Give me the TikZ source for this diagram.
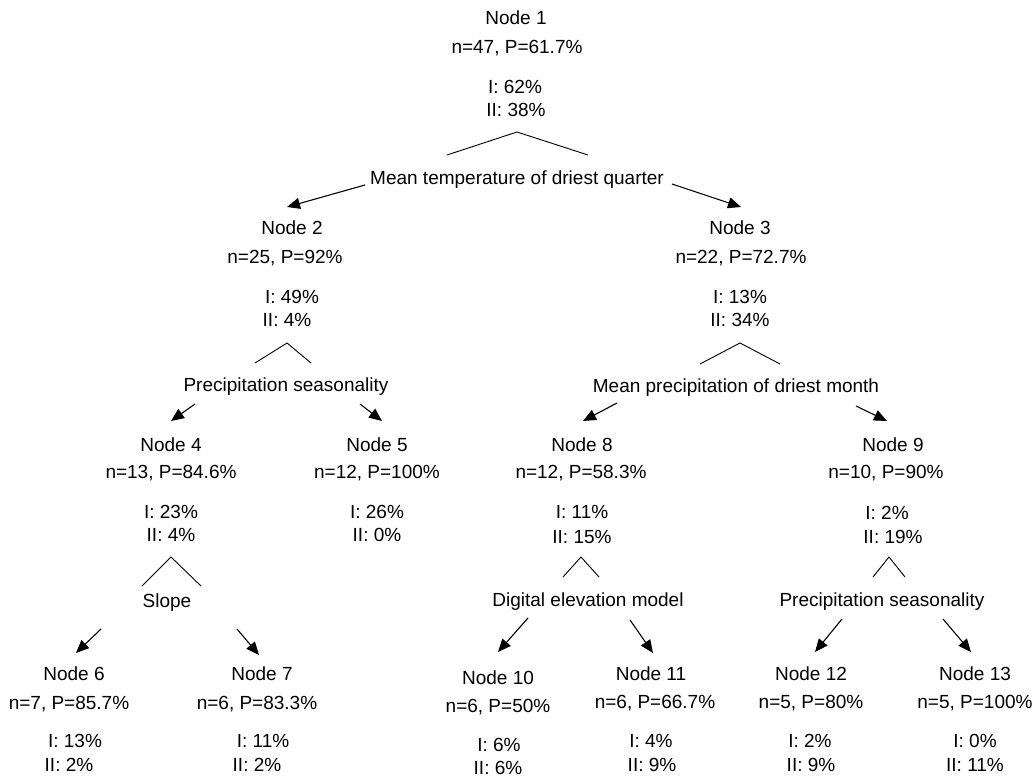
\documentclass[tikz,border=0pt]{standalone}
\usepackage{fontspec}
\setmainfont{Liberation Sans}
\usetikzlibrary{arrows.meta}
\begin{document}
\begin{tikzpicture}[x=1pt,y=-1pt,
  txt/.style={font=\fontsize{19}{22}\selectfont, inner sep=0pt, anchor=base, yshift=-6.8pt},
  arr/.style={line width=1.1pt, -{Triangle[length=13pt,width=11pt]}},
  tent/.style={line width=0.9pt}]
\fill[white] (0,0) rectangle (1034,778);
\useasboundingbox (0,0) rectangle (1034,778);

% ---------- Node 1
\node[txt] (n1a) at (516,18) {Node 1};
\node[txt] (n1b) at (517,47) {n=47, P=61.7\%};
\node[txt] (n1c) at (515,87) {I: 62\%};
\node[txt] (n1d) at (516,110) {II: 38\%};
\draw[tent] (447,155) -- (517,132) -- (588,155);
\node[txt] (s1) at (517,178) {Mean temperature of driest quarter};
\coordinate (a1s) at (365,185); \coordinate (a1e) at (287,207);
\coordinate (a2s) at (672,184); \coordinate (a2e) at (741,207);
\draw[arr] (a1s) -- (a1e);
\draw[arr] (a2s) -- (a2e);

% ---------- Node 2
\node[txt] (n2a) at (292,228) {Node 2};
\node[txt] (n2b) at (285,257) {n=25, P=92\%};
\node[txt] (n2c) at (292,297) {I: 49\%};
\node[txt] (n2d) at (287,320) {II: 4\%};
\draw[tent] (255,363) -- (287,343) -- (311,363);
\node[txt] (s2) at (286,385) {Precipitation seasonality};
\coordinate (b1s) at (195,404); \coordinate (b1e) at (171,421);
\coordinate (b2s) at (360,404); \coordinate (b2e) at (382,421);
\draw[arr] (b1s) -- (b1e);
\draw[arr] (b2s) -- (b2e);

% ---------- Node 3
\node[txt] (n3a) at (740,228) {Node 3};
\node[txt] (n3b) at (741,257) {n=22, P=72.7\%};
\node[txt] (n3c) at (740,297) {I: 13\%};
\node[txt] (n3d) at (740,320) {II: 34\%};
\draw[tent] (700,364) -- (740,343) -- (780,364);
\node[txt] (s3) at (736,386) {Mean precipitation of driest month};
\coordinate (c1s) at (617,403); \coordinate (c1e) at (583,421);
\coordinate (c2s) at (856,406); \coordinate (c2e) at (887,421);
\draw[arr] (c1s) -- (c1e);
\draw[arr] (c2s) -- (c2e);

% ---------- Node 4
\node[txt] (n4a) at (171,445) {Node 4};
\node[txt] (n4b) at (171,472) {n=13, P=84.6\%};
\node[txt] (n4c) at (171,512) {I: 23\%};
\node[txt] (n4d) at (171,535) {II: 4\%};
\draw[tent] (142,586) -- (171,557) -- (201,586);
\node[txt] (s4) at (167,601) {Slope};
\coordinate (d1s) at (101,629); \coordinate (d1e) at (76,653);
\coordinate (d2s) at (237,629); \coordinate (d2e) at (259,655);
\draw[arr] (d1s) -- (d1e);
\draw[arr] (d2s) -- (d2e);

% ---------- Node 5
\node[txt] (n5a) at (377,445) {Node 5};
\node[txt] (n5b) at (377,472) {n=12, P=100\%};
\node[txt] (n5c) at (377,512) {I: 26\%};
\node[txt] (n5d) at (377,535) {II: 0\%};

% ---------- Node 8
\node[txt] (n8a) at (582,445) {Node 8};
\node[txt] (n8b) at (581,472) {n=12, P=58.3\%};
\node[txt] (n8c) at (582,512) {I: 11\%};
\node[txt] (n8d) at (582,537) {II: 15\%};
\draw[tent] (563,577) -- (581,557) -- (599,577);
\node[txt] (s8) at (588,600) {Digital elevation model};
\coordinate (e1s) at (528,618); \coordinate (e1e) at (498,652);
\coordinate (e2s) at (630,620); \coordinate (e2e) at (653,653);
\draw[arr] (e1s) -- (e1e);
\draw[arr] (e2s) -- (e2e);

% ---------- Node 9
\node[txt] (n9a) at (893,445) {Node 9};
\node[txt] (n9b) at (886,472) {n=10, P=90\%};
\node[txt] (n9c) at (887,513) {I: 2\%};
\node[txt] (n9d) at (893,537) {II: 19\%};
\draw[tent] (873,577) -- (889,557) -- (905,577);
\node[txt] (s9) at (882,600) {Precipitation seasonality};
\coordinate (f1s) at (842,619); \coordinate (f1e) at (815,652);
\coordinate (f2s) at (943,619); \coordinate (f2e) at (971,652);
\draw[arr] (f1s) -- (f1e);
\draw[arr] (f2s) -- (f2e);

% ---------- Leaves
\node[txt] (n6a) at (74,674) {Node 6};
\node[txt] (n6b) at (69,703) {n=7, P=85.7\%};
\node[txt] (n6c) at (75,741) {I: 13\%};
\node[txt] (n6d) at (69,765) {II: 2\%};

\node[txt] (n7a) at (262,674) {Node 7};
\node[txt] (n7b) at (257,703) {n=6, P=83.3\%};
\node[txt] (n7c) at (263,741) {I: 11\%};
\node[txt] (n7d) at (257,765) {II: 2\%};

\node[txt] (n10a) at (498,678) {Node 10};
\node[txt] (n10b) at (498,706) {n=6, P=50\%};
\node[txt] (n10c) at (499,745) {I: 6\%};
\node[txt] (n10d) at (498,768) {II: 6\%};

\node[txt] (n11a) at (651,674) {Node 11};
\node[txt] (n11b) at (655,702) {n=6, P=66.7\%};
\node[txt] (n11c) at (651,741) {I: 4\%};
\node[txt] (n11d) at (652,765) {II: 9\%};

\node[txt] (n12a) at (811,674) {Node 12};
\node[txt] (n12b) at (811,702) {n=5, P=80\%};
\node[txt] (n12c) at (810,741) {I: 2\%};
\node[txt] (n12d) at (811,765) {II: 9\%};

\node[txt] (n13a) at (975,674) {Node 13};
\node[txt] (n13b) at (975,702) {n=5, P=100\%};
\node[txt] (n13c) at (975,741) {I: 0\%};
\node[txt] (n13d) at (975,765) {II: 11\%};
\end{tikzpicture}
\end{document}
